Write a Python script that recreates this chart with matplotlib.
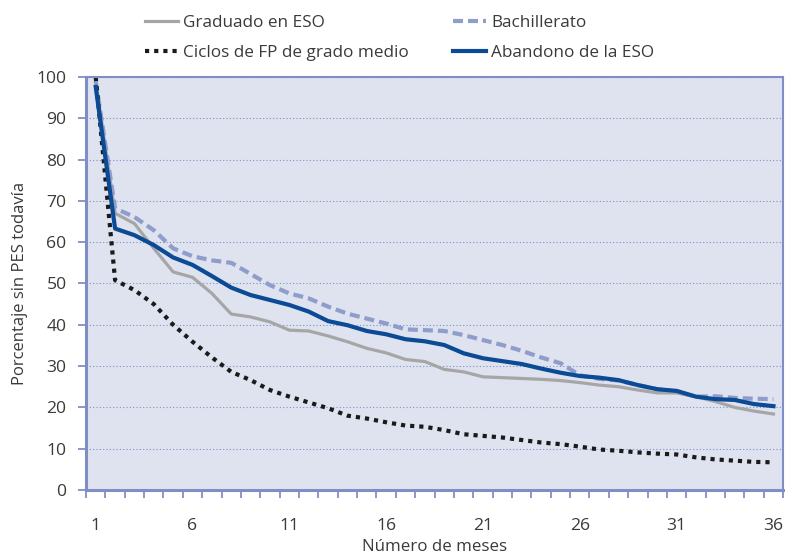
import numpy as np
import matplotlib.pyplot as plt
from matplotlib.ticker import FixedLocator

plt.rcParams['font.family'] = ['Open Sans', 'DejaVu Sans']

meses = np.arange(1, 37)

graduado_eso = [99.0, 67.0, 64.5, 58.5, 52.8, 51.5, 47.6, 42.6, 41.9, 40.7,
                38.7, 38.5, 37.3, 35.9, 34.3, 33.2, 31.6, 31.1, 29.2, 28.6,
                27.4, 27.2, 27.0, 26.8, 26.5, 26.0, 25.4, 25.0, 24.2, 23.5,
                23.5, 22.6, 21.4, 20.0, 19.1, 18.4]
bachillerato = [99.0, 68.2, 66.1, 62.9, 58.5, 56.6, 55.6, 55.0, 52.3, 49.6,
                47.6, 46.4, 44.4, 42.7, 41.5, 40.3, 38.9, 38.7, 38.5, 37.5,
                36.3, 35.1, 33.7, 32.1, 30.7, 27.8, 26.9, 26.5, 25.4, 24.4,
                23.8, 22.6, 22.7, 22.3, 22.1, 22.0]
ciclos_fp = [100.0, 50.8, 48.4, 45.0, 40.0, 35.9, 32.1, 28.6, 26.6, 24.2,
             22.6, 21.2, 19.8, 18.0, 17.3, 16.4, 15.6, 15.3, 14.5, 13.5,
             13.1, 12.7, 12.1, 11.5, 11.1, 10.5, 9.8, 9.5, 9.1, 8.8,
             8.6, 7.9, 7.4, 7.1, 6.8, 6.7]
abandono_eso = [97.6, 63.3, 61.7, 59.3, 56.3, 54.5, 51.8, 49.0, 47.2, 46.0,
                44.8, 43.2, 40.9, 39.9, 38.5, 37.7, 36.5, 36.0, 35.1, 33.1,
                31.9, 31.2, 30.5, 29.4, 28.4, 27.6, 27.2, 26.6, 25.4, 24.4,
                24.0, 22.6, 22.0, 21.8, 20.8, 20.3]

x_labels = [1, 6, 11, 16, 21, 26, 31, 36]

axis_col = '#7f8fc6'
text_col = '#3a3a3a'

fig = plt.figure(figsize=(7.85, 5.58), dpi=100)
ax = fig.add_axes([0.1096, 0.1219, 0.888, 0.7401])
ax.set_facecolor('#dfe3ef')

l1, = ax.plot(meses, graduado_eso, color='#a6a6a6', lw=2.3, solid_joinstyle='round')
l2, = ax.plot(meses, bachillerato, color='#8e9dcb', lw=3.0, dashes=(2.4, 1.2))
l3, = ax.plot(meses, ciclos_fp, color='#1a1a1a', lw=3.0, dashes=(1, 1.2))
l4, = ax.plot(meses, abandono_eso, color='#0b4a94', lw=3.0, solid_joinstyle='round')

ax.set_xlim(0.5, 36.5)
ax.set_ylim(0, 100)
ax.set_yticks(np.arange(0, 101, 10))
ax.grid(axis='y', color='#7d8fc9', lw=0.8, ls=(0, (1, 2)))
ax.set_axisbelow(True)

ax.xaxis.set_major_locator(FixedLocator(x_labels))
ax.xaxis.set_minor_locator(FixedLocator(np.arange(0.5, 37, 1)))
ax.tick_params(axis='x', which='major', length=0, pad=20, labelsize=12.6, labelcolor=text_col)
ax.tick_params(axis='x', which='minor', length=6, width=1.3, color=axis_col, direction='out')
ax.tick_params(axis='y', length=6, width=1.3, color=axis_col, labelsize=12.6, labelcolor=text_col, pad=8)

for s in ['left', 'bottom']:
    ax.spines[s].set_color(axis_col)
    ax.spines[s].set_linewidth(2.2)
for s in ['top', 'right']:
    ax.spines[s].set_color(axis_col)
    ax.spines[s].set_linewidth(1.5)

ax.set_ylabel('Porcentaje sin PES todavía', fontsize=12, color=text_col, labelpad=6)
ax.set_xlabel('Número de meses', fontsize=12.2, color=text_col, labelpad=4)

fig.legend([l1, l3, l2, l4],
           ['Graduado en ESO', 'Ciclos de FP de grado medio', 'Bachillerato', 'Abandono de la ESO'],
           ncol=2, loc='upper left', bbox_to_anchor=(0.176, 0.985), borderaxespad=0,
           frameon=False, fontsize=12.3, labelcolor=text_col,
           handlelength=1.93, handletextpad=0.3, columnspacing=2.6, labelspacing=0.78)

fig.savefig('out.png', dpi=100)
